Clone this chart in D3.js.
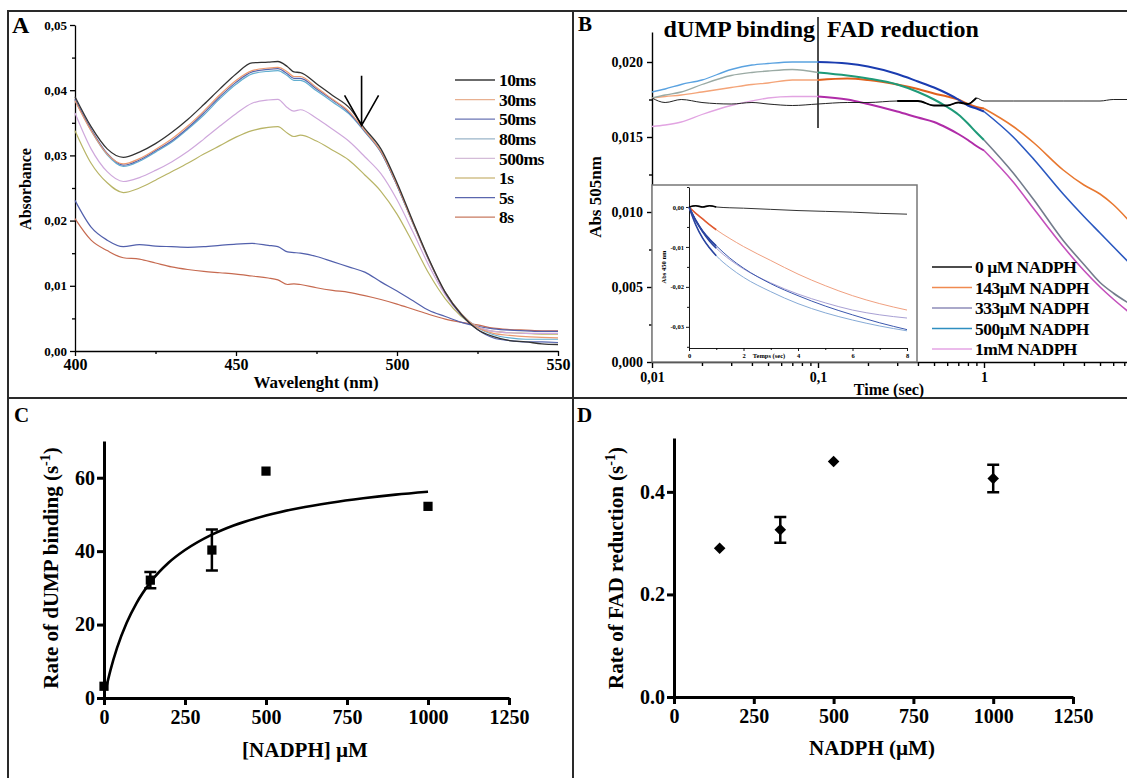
<!DOCTYPE html>
<html><head><meta charset="utf-8">
<script src="https://cdnjs.cloudflare.com/ajax/libs/d3/7.8.5/d3.min.js"></script>
<style>
body{margin:0;background:#fff}
svg{display:block;font-family:"Liberation Serif","Times New Roman",serif;font-weight:bold}
</style></head><body><svg id="c" width="1127" height="778"></svg>
<script>
// ---------- Panel A data ----------
const wavelengths = [400,405,410,415,420,425,430,435,440,445,450,455,460,463,466,468,470,475,480,485,490,495,500,505,510,515,520,525,530,535,540,545,550];
const spec10ms  = [.0390,.0344,.0310,.0297,.0305,.0318,.0335,.0355,.0378,.0402,.0425,.0442,.0443,.0444,.0436,.0428,.0427,.0410,.0392,.0374,.0341,.0310,.0258,.0198,.0140,.0090,.0056,.0033,.0022,.0016,.0014,.0011,.0010];
const spec30ms  = [.0384,.0338,.0302,.0287,.0295,.0309,.0325,.0345,.0368,.0393,.0415,.0430,.0434,.0435,.0428,.0421,.0421,.0404,.0386,.0368,.0338,.0306,.0255,.0196,.0139,.0090,.0057,.0036,.0027,.0024,.0022,.0021,.0020];
const spec50ms  = [.0386,.0340,.0303,.0285,.0293,.0307,.0322,.0342,.0365,.0390,.0412,.0428,.0432,.0433,.0425,.0418,.0418,.0402,.0385,.0366,.0337,.0305,.0254,.0195,.0138,.0089,.0055,.0033,.0020,.0016,.0014,.0014,.0013];
const spec80ms  = [.0385,.0338,.0301,.0283,.0291,.0305,.0320,.0340,.0362,.0387,.0409,.0425,.0429,.0430,.0422,.0415,.0415,.0399,.0382,.0364,.0336,.0305,.0254,.0196,.0139,.0090,.0057,.0036,.0025,.0020,.0018,.0018,.0018];
const spec500ms = [.0365,.0310,.0275,.0260,.0266,.0277,.0290,.0306,.0325,.0345,.0364,.0380,.0385,.0386,.0373,.0368,.0370,.0357,.0340,.0322,.0298,.0272,.0232,.0182,.0130,.0086,.0055,.0037,.0030,.0028,.0027,.0027,.0027];
const spec1s    = [.0338,.0288,.0258,.0243,.0250,.0262,.0275,.0288,.0302,.0315,.0328,.0338,.0343,.0344,.0334,.0329,.0331,.0322,.0308,.0293,.0270,.0245,.0210,.0165,.0118,.0080,.0053,.0037,.0030,.0028,.0027,.0026,.0026];
const spec5s    = [.0231,.0190,.0170,.0160,.0163,.0161,.0160,.0159,.0160,.0162,.0164,.0165,.0162,.0160,.0152,.0151,.0150,.0145,.0137,.0129,.0121,.0106,.0092,.0077,.0062,.0053,.0044,.0038,.0034,.0032,.0031,.0030,.0030];
const spec8s    = [.0203,.0170,.0154,.0143,.0141,.0135,.0129,.0125,.0122,.0120,.0118,.0115,.0112,.0109,.0102,.0103,.0102,.0097,.0093,.0090,.0085,.0079,.0072,.0064,.0056,.0049,.0044,.0040,.0035,.0033,.0032,.0031,.0031];
const specLabels = ["10ms","30ms","50ms","80ms","500ms","1s","5s","8s"];
const specColors = ["#333333","#ec9a70","#5664ae","#62aed0","#cfa8dc","#b8b466","#5260ac","#c66a50"];
const specLegendColors = ["#3a3a3a","#e8b090","#6a74b4","#9ab4c8","#d4bcd8","#d2c08a","#5a66ae","#c87a60"];
const aTicksY = [0,0.01,0.02,0.03,0.04,0.05];
const aTicksX = [400,450,500,550];

// ---------- Panel B data ----------
const timesB = [0.01,0.012,0.015,0.02,0.03,0.04,0.05,0.07,0.1,0.15,0.2,0.3,0.4,0.5,0.6,0.7,0.8,0.9,1,1.5,2,3,4,5,6,7.5];
const abs0uM   = [.0176,.0173,.0175,.0173,.0172,.0173,.0172,.0171,.0172,.0173,.0173,.0174,.0174,.0171,.0171,.0173,.0172,.0176,.0174,.0174,.0174,.0174,.0174,.0174,.0175,.0175];
const abs143uM = [.0176,.0177,.0178,.0180,.0183,.0185,.0186,.0188,.0188,.0189,.0188,.0185,.0182,.0179,.0177,.0175,.0172,.0170,.0169,.0157,.0146,.0128,.0118,.0112,.0105,.0094];
const abs333uM = [.0176,.0178,.0180,.0185,.0191,.0193,.0194,.0195,.0193,.0191,.0189,.0185,.0180,.0175,.0170,.0165,.0159,.0153,.0148,.0126,.0108,.0081,.0065,.0053,.0046,.0039];
const abs500uM = [.0180,.0182,.0185,.0188,.0195,.0198,.0199,.0200,.0200,.0199,.0197,.0192,.0187,.0183,.0179,.0175,.0171,.0169,.0167,.0150,.0135,.0112,.0097,.0086,.0077,.0066];
const abs1mM   = [.0157,.0158,.0160,.0165,.0171,.0174,.0176,.0177,.0177,.0175,.0172,.0167,.0163,.0160,.0156,.0152,.0148,.0144,.0141,.0120,.0102,.0077,.0061,.0050,.0042,.0033];
const bLabels = ["0 \u00b5M NADPH","143\u00b5M NADPH","333\u00b5M NADPH","500\u00b5M NADPH","1mM NADPH"];
const bLegendColors = ["#111111","#f08a50","#8e8cb8","#2e8ec0","#e4a4e4"];
const bEarly = ["#222222","#f4a478","#9aaaa4","#5aa2e0","#e2a4e2"];
const bMid   = ["#111111","#e0601c","#1e9a78","#1a3cb0","#b02ca8"];
const bLate  = ["#222222","#e87830","#737c8c","#2a58c0","#c450bc"];
const bTicksY = [0,0.005,0.010,0.015,0.020];
const bTicksX = [0.01,0.1,1];

// inset
const timesInset = [0,0.25,0.5,0.75,1,1.5,2,3,4,5,6,7,8];
const inset0uM   = [0,0.0003,0,0.0003,0,-0.0002,-0.0003,-0.0006,-0.0009,-0.0011,-0.0013,-0.0016,-0.0018];
const inset143uM = [0,-0.0016,-0.0030,-0.0044,-0.0057,-0.0079,-0.0099,-0.0134,-0.0168,-0.0197,-0.0222,-0.0242,-0.0258];
const inset333uM = [0,-0.0035,-0.0062,-0.0085,-0.0103,-0.0132,-0.0155,-0.0190,-0.0218,-0.0240,-0.0258,-0.0270,-0.0278];
const inset500uM = [0,-0.0033,-0.0060,-0.0080,-0.0097,-0.0128,-0.0153,-0.0192,-0.0222,-0.0248,-0.0270,-0.0290,-0.0307];
const inset1mM   = [0,-0.0045,-0.0078,-0.0102,-0.0122,-0.0152,-0.0176,-0.0212,-0.0242,-0.0265,-0.0283,-0.0298,-0.0310];
const insetColors = ["#333333","#f0a080","#a8a0d4","#3c58ae","#86aad6"];
const insetTicksY = [0,-0.01,-0.02,-0.03];
const insetTicksX = [0,2,4,6,8];

// ---------- Panel C data ----------
const nadphC = [0,143,333,500,1000];
const rateC  = [3.2,32.1,40.3,61.8,52.2];
const errC   = [0,2.2,5.6,0,0];
const fitX   = [6,20,40,70,100,143,200,250,333,400,500,600,700,800,900,1000];
const fitY   = [2.5,7.6,13.6,20.5,25.8,31.5,36.9,40.3,44.5,47.0,49.7,51.7,53.2,54.4,55.4,56.2];
const cTicksX = [0,250,500,750,1000,1250];
const cTicksY = [0,20,40,60];

// ---------- Panel D data ----------
const nadphD = [143,333,500,1000];
const rateD  = [0.290,0.326,0.459,0.426];
const errD   = [0,0.025,0,0.027];
const dTicksX = [0,250,500,750,1000,1250];
const dTicksY = [0,0.2,0.4];

// ================= drawing =================
const svg = d3.select("#c");
const comma = (f) => (d) => d3.format(f)(d).replace(".", ",").replace("\u2212","-");

function styleAxis(g, fs, sw) {
  g.selectAll("path.domain").attr("stroke", "#000").attr("stroke-width", sw);
  g.selectAll(".tick line").attr("stroke", "#000").attr("stroke-width", sw);
  g.selectAll(".tick text").attr("fill", "#000").attr("font-size", fs)
    .attr("font-family", '"Liberation Serif","Times New Roman",serif').attr("font-weight", "bold");
}

// panel borders
const borders = svg.append("g").attr("stroke", "#2a2a2a").attr("stroke-width", 2).attr("fill", "none");
borders.append("rect").attr("x", 8).attr("y", 11).attr("width", 1125).attr("height", 770);
borders.append("line").attr("x1", 573).attr("x2", 573).attr("y1", 11).attr("y2", 778);
borders.append("line").attr("x1", 8).attr("x2", 1127).attr("y1", 398).attr("y2", 398);

// ---------- Panel A ----------
{
  const x = d3.scaleLinear().domain([400, 550]).range([75, 558]);
  const y = d3.scaleLinear().domain([0, 0.05]).range([351, 25]);
  const gy = svg.append("g").attr("transform", "translate(75,0)")
    .call(d3.axisLeft(y).tickValues(aTicksY).tickSize(5).tickSizeOuter(0).tickPadding(3).tickFormat(comma(".2f")));
  styleAxis(gy, 13, 1.3);
  const gym = svg.append("g").attr("transform", "translate(75,0)")
    .call(d3.axisLeft(y).tickValues([0.005,0.015,0.025,0.035,0.045]).tickSize(3).tickFormat(""));
  gym.select("path.domain").remove(); styleAxis(gym, 13, 1.3);
  const gx = svg.append("g").attr("transform", "translate(0,351)")
    .call(d3.axisBottom(x).tickValues(aTicksX).tickSize(5).tickSizeOuter(0).tickPadding(3).tickFormat(d3.format("d")));
  styleAxis(gx, 16, 1.3);
  const gxm = svg.append("g").attr("transform", "translate(0,351)")
    .call(d3.axisBottom(x).tickValues([425,475,525]).tickSize(3).tickFormat(""));
  gxm.select("path.domain").remove(); styleAxis(gxm, 16, 1.3);

  const series = [spec10ms, spec30ms, spec50ms, spec80ms, spec500ms, spec1s, spec5s, spec8s];
  const line = d3.line().x((d, i) => x(wavelengths[i])).y(d => y(d)).curve(d3.curveMonotoneX);
  const order = [7, 6, 5, 4, 3, 2, 1, 0];
  order.forEach(k => {
    svg.append("path").attr("d", line(series[k])).attr("fill", "none")
      .attr("stroke", specColors[k]).attr("stroke-width", k === 0 ? 1.3 : 1.2);
  });

  // arrow annotation at 489 nm
  const ax = x(489), yTop = y(0.0422), yTip = y(0.0346);
  svg.append("path").attr("fill", "none").attr("stroke", "#000").attr("stroke-width", 1.6)
    .attr("d", `M${ax},${yTop}L${ax},${yTip}M${ax - 17},${yTip - 30}L${ax},${yTip}L${ax + 17},${yTip - 30}`);

  // legend
  const lg = svg.append("g");
  specLabels.forEach((lab, i) => {
    const yy = 80 + i * 19.6;
    lg.append("line").attr("x1", 455).attr("x2", 495).attr("y1", yy).attr("y2", yy)
      .attr("stroke", specLegendColors[i]).attr("stroke-width", 1.3);
    lg.append("text").attr("x", 499).attr("y", yy).attr("dy", "0.35em").attr("font-size", 17.5)
      .attr("letter-spacing", -0.6).text(lab);
  });

  svg.append("text").attr("x", 12).attr("y", 33).attr("font-size", 24).text("A");
  svg.append("text").attr("x", 316).attr("y", 388).attr("text-anchor", "middle").attr("font-size", 17).text("Wavelenght (nm)");
  svg.append("text").attr("transform", "translate(31,189) rotate(-90)").attr("text-anchor", "middle").attr("font-size", 16).text("Absorbance");
}

// ---------- Panel B ----------
{
  const x = d3.scaleLog().domain([0.01, 10]).range([652, 1150]);
  const y = d3.scaleLinear().domain([0, 0.022]).range([362, 32]);
  svg.append("defs").append("clipPath").attr("id", "clipB")
    .append("rect").attr("x", 652).attr("y", 14).attr("width", 475).attr("height", 348);

  const gy = svg.append("g").attr("transform", "translate(652,0)")
    .call(d3.axisLeft(y).tickValues(bTicksY).tickSize(5).tickSizeOuter(0).tickPadding(4).tickFormat(comma(".3f")));
  styleAxis(gy, 14, 1.4);
  const gym = svg.append("g").attr("transform", "translate(652,0)")
    .call(d3.axisLeft(y).tickValues([0.0025,0.0075,0.0125,0.0175]).tickSize(3).tickFormat(""));
  gym.select("path.domain").remove(); styleAxis(gym, 14, 1.4);

  const minor = [];
  [0.01, 0.1, 1].forEach(b => { for (let m = 2; m <= 9; m++) minor.push(b * m); });
  const gx = svg.append("g").attr("transform", "translate(0,362)")
    .call(d3.axisBottom(x).tickValues(bTicksX).tickSize(6).tickSizeOuter(0).tickPadding(4)
      .tickFormat(d => d < 1 ? String(d).replace(".", ",") : String(d)));
  styleAxis(gx, 14, 1.4);
  const gxm = svg.append("g").attr("transform", "translate(0,362)")
    .call(d3.axisBottom(x).tickValues(minor).tickSize(4).tickFormat(""));
  gxm.select("path.domain").remove(); styleAxis(gxm, 14, 1.4);

  // divider and phase titles
  svg.append("line").attr("x1", x(0.1)).attr("x2", x(0.1)).attr("y1", 17).attr("y2", 128)
    .attr("stroke", "#000").attr("stroke-width", 1.4);
  svg.append("text").attr("x", x(0.1) - 3).attr("y", 37).attr("text-anchor", "end").attr("font-size", 24).text("dUMP binding");
  svg.append("text").attr("x", x(0.1) + 9).attr("y", 37).attr("font-size", 24).text("FAD reduction");

  const series = [abs0uM, abs143uM, abs333uM, abs500uM, abs1mM];
  const line = d3.line().x(d => x(d.t)).y(d => y(d.v)).curve(d3.curveMonotoneX);
  const cg = svg.append("g").attr("clip-path", "url(#clipB)");
  const drawOrder = [1, 2, 3, 4, 0];
  drawOrder.forEach(k => {
    const pts = timesB.map((t, i) => ({ t, v: series[k][i] }));
    const early = pts.filter(p => p.t <= 0.1);
    const mid = pts.filter(p => p.t >= 0.1 && p.t <= 1);
    const late = pts.filter(p => p.t >= 1);
    if (k === 0) {
      cg.append("path").attr("d", line(pts)).attr("fill", "none").attr("stroke", "#222").attr("stroke-width", 1);
      cg.append("path").attr("d", line(pts.filter(p => p.t >= 0.3 && p.t <= 0.9))).attr("fill", "none").attr("stroke", "#000").attr("stroke-width", 1.8);
    } else {
      cg.append("path").attr("d", line(early)).attr("fill", "none").attr("stroke", bEarly[k]).attr("stroke-width", 1.3);
      cg.append("path").attr("d", line(late)).attr("fill", "none").attr("stroke", bLate[k]).attr("stroke-width", 1.6);
      cg.append("path").attr("d", line(mid)).attr("fill", "none").attr("stroke", bMid[k]).attr("stroke-width", 2);
    }
  });

  // inset
  svg.append("rect").attr("x", 652).attr("y", 185).attr("width", 265).attr("height", 177)
    .attr("fill", "#fff").attr("stroke", "#777").attr("stroke-width", 1.5);
  const xi = d3.scaleLinear().domain([0, 8]).range([689, 907]);
  const yi = d3.scaleLinear().domain([-0.0353, 0.005]).range([348, 187]);
  const giy = svg.append("g").attr("transform", "translate(689,0)")
    .call(d3.axisLeft(yi).tickValues(insetTicksY).tickSize(3).tickSizeOuter(0).tickPadding(2).tickFormat(comma(".2f")));
  styleAxis(giy, 6.5, 0.9);
  const giym = svg.append("g").attr("transform", "translate(689,0)")
    .call(d3.axisLeft(yi).tickValues([0.005,-0.005,-0.015,-0.025,-0.035]).tickSize(2).tickFormat(""));
  giym.select("path.domain").remove(); styleAxis(giym, 6.5, 0.9);
  const gix = svg.append("g").attr("transform", "translate(0,348)")
    .call(d3.axisBottom(xi).tickValues(insetTicksX).tickSize(3).tickSizeOuter(0).tickPadding(2).tickFormat(d3.format("d")));
  styleAxis(gix, 6.5, 0.9);
  const gixm = svg.append("g").attr("transform", "translate(0,348)")
    .call(d3.axisBottom(xi).tickValues([1,3,5,7]).tickSize(2).tickFormat(""));
  gixm.select("path.domain").remove(); styleAxis(gixm, 6.5, 0.9);
  svg.append("text").attr("x", 769).attr("y", 358).attr("text-anchor", "middle").attr("font-size", 6.5).text("Temps (sec)");
  svg.append("text").attr("transform", "translate(666,267) rotate(-90)").attr("text-anchor", "middle").attr("font-size", 6.5).text("Abs 450 nm");

  const iseries = [inset0uM, inset143uM, inset333uM, inset500uM, inset1mM];
  const iline = d3.line().x(d => xi(d.t)).y(d => yi(d.v)).curve(d3.curveMonotoneX);
  [1, 2, 3, 4, 0].forEach(k => {
    const pts = timesInset.map((t, i) => ({ t, v: iseries[k][i] }));
    svg.append("path").attr("d", iline(pts)).attr("fill", "none").attr("stroke", insetColors[k]).attr("stroke-width", 1);
    svg.append("path").attr("d", iline(pts.filter(p => p.t <= 1))).attr("fill", "none")
      .attr("stroke", k === 1 ? "#e05a30" : k === 0 ? "#000" : "#2a44a0").attr("stroke-width", 1.6);
  });

  // legend
  bLabels.forEach((lab, i) => {
    const yy = 267 + i * 20.5;
    svg.append("line").attr("x1", 932).attr("x2", 972).attr("y1", yy).attr("y2", yy)
      .attr("stroke", bLegendColors[i]).attr("stroke-width", 1.3);
    svg.append("text").attr("x", 975).attr("y", yy).attr("dy", "0.35em").attr("font-size", 17.5)
      .attr("letter-spacing", -0.5).text(lab);
  });

  svg.append("text").attr("x", 578).attr("y", 31).attr("font-size", 21).text("B");
  svg.append("text").attr("x", 889).attr("y", 395).attr("text-anchor", "middle").attr("font-size", 16).text("Time (sec)");
  svg.append("text").attr("transform", "translate(601,197) rotate(-90)").attr("text-anchor", "middle").attr("font-size", 17).text("Abs 505nm");
}

// ---------- Panel C ----------
{
  const x = d3.scaleLinear().domain([0, 1250]).range([104, 509]);
  const y = d3.scaleLinear().domain([0, 70]).range([698, 441]);
  const gy = svg.append("g").attr("transform", "translate(104,0)")
    .call(d3.axisLeft(y).tickValues(cTicksY).tickSize(7).tickSizeOuter(0).tickPadding(2).tickFormat(d3.format("d")));
  styleAxis(gy, 20, 3);
  const gx = svg.append("g").attr("transform", "translate(0,698)")
    .call(d3.axisBottom(x).tickValues(cTicksX).tickSize(7).tickSizeOuter(0).tickPadding(5).tickFormat(d3.format("d")));
  styleAxis(gx, 20, 3);

  svg.append("path").attr("d", d3.line().x((d, i) => x(fitX[i])).y(d => y(d)).curve(d3.curveMonotoneX)(fitY))
    .attr("fill", "none").attr("stroke", "#000").attr("stroke-width", 2.6);
  nadphC.forEach((n, i) => {
    if (errC[i] > 0) {
      const xx = x(n), y1 = y(rateC[i] + errC[i]), y2 = y(rateC[i] - errC[i]);
      svg.append("path").attr("fill", "none").attr("stroke", "#000").attr("stroke-width", 2.5)
        .attr("d", `M${xx},${y1}L${xx},${y2}M${xx - 6},${y1}L${xx + 6},${y1}M${xx - 6},${y2}L${xx + 6},${y2}`);
    }
    svg.append("path").attr("d", d3.symbol(d3.symbolSquare, 85)()).attr("transform", `translate(${x(n)},${y(rateC[i])})`).attr("fill", "#000");
  });

  svg.append("text").attr("x", 14).attr("y", 422).attr("font-size", 21).text("C");
  svg.append("text").attr("x", 305).attr("y", 757).attr("text-anchor", "middle").attr("font-size", 21).text("[NADPH] \u00b5M");
  const t = svg.append("text").attr("transform", "translate(58,568) rotate(-90)").attr("text-anchor", "middle").attr("font-size", 21);
  t.append("tspan").text("Rate of dUMP binding (s");
  t.append("tspan").attr("dy", -8).attr("font-size", 14).text("-1");
  t.append("tspan").attr("dy", 8).text(")");
}

// ---------- Panel D ----------
{
  const x = d3.scaleLinear().domain([0, 1250]).range([674, 1073]);
  const y = d3.scaleLinear().domain([0, 0.505]).range([697, 438]);
  const gy = svg.append("g").attr("transform", "translate(674,0)")
    .call(d3.axisLeft(y).tickValues(dTicksY).tickSize(7).tickSizeOuter(0).tickPadding(2).tickFormat(d3.format(".1f")));
  styleAxis(gy, 20, 3);
  const gx = svg.append("g").attr("transform", "translate(0,697)")
    .call(d3.axisBottom(x).tickValues(dTicksX).tickSize(7).tickSizeOuter(0).tickPadding(5).tickFormat(d3.format("d")));
  styleAxis(gx, 20, 3);

  nadphD.forEach((n, i) => {
    if (errD[i] > 0) {
      const xx = x(n), y1 = y(rateD[i] + errD[i]), y2 = y(rateD[i] - errD[i]);
      svg.append("path").attr("fill", "none").attr("stroke", "#000").attr("stroke-width", 2.5)
        .attr("d", `M${xx},${y1}L${xx},${y2}M${xx - 6},${y1}L${xx + 6},${y1}M${xx - 6},${y2}L${xx + 6},${y2}`);
    }
    svg.append("path").attr("d", d3.symbol(d3.symbolDiamond2, 85)()).attr("transform", `translate(${x(n)},${y(rateD[i])})`).attr("fill", "#000");
  });

  svg.append("text").attr("x", 577).attr("y", 422).attr("font-size", 21).text("D");
  svg.append("text").attr("x", 872).attr("y", 755).attr("text-anchor", "middle").attr("font-size", 21).text("NADPH (\u00b5M)");
  const t = svg.append("text").attr("transform", "translate(623,568) rotate(-90)").attr("text-anchor", "middle").attr("font-size", 21);
  t.append("tspan").text("Rate of FAD reduction (s");
  t.append("tspan").attr("dy", -8).attr("font-size", 14).text("-1");
  t.append("tspan").attr("dy", 8).text(")");
}
</script>
</body></html>
